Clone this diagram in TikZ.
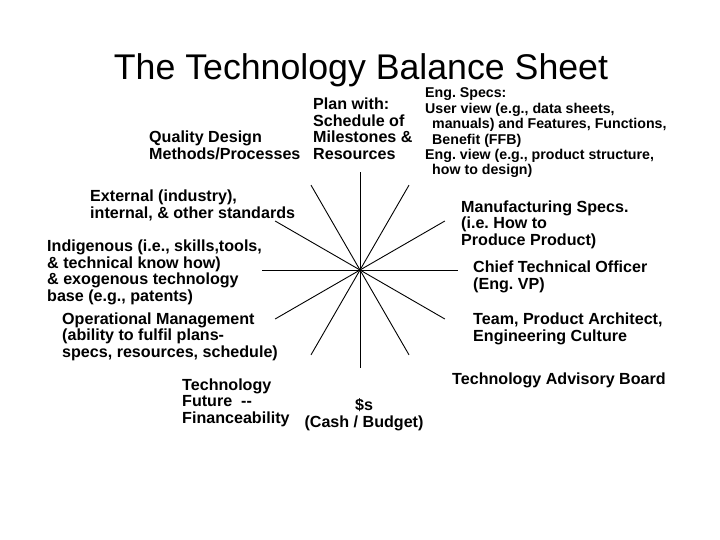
\documentclass[tikz,border=0pt]{standalone}
\usepackage{fontspec}
\setmainfont{Liberation Sans}
\frenchspacing
\begin{document}
\begin{tikzpicture}[
        x=1pt, y=-1pt,
        title/.style={font=\fontsize{35.7}{40}\selectfont, anchor=base, inner sep=0},% sheet title
        entry/.style={font=\bfseries\fontsize{16.1}{16.7}\selectfont, align=left, anchor=base west, inner sep=0},% item round the star, placed at last baseline
        small/.style={entry, font=\bfseries\fontsize{14.2}{15.4}\selectfont},% smaller item
        ray/.style={line width=0.9pt},% spoke of the star
    ]
        \useasboundingbox (0,0) rectangle (720,540);

        \node [title] (sheetTitle) at (361,80) {The Technology Balance Sheet};

        \coordinate (hub) at (360,270);
        \foreach \a in {0,30,...,330}
            \draw [ray] (hub) -- ++(\a:98) coordinate (spoke\a);

        \node [entry] (plan) at (313,159.5) {Plan with:\\Schedule of\\Milestones \&\\Resources};
        \node [entry] (quality) at (149,159.5) {Quality Design\\Methods/Processes};
        \node [small] (engSpecs) at (425,175) {Eng. Specs:\\User view (e.g., data sheets,\\\hspace*{7pt}manuals) and Features, Functions,\\\hspace*{7pt}Benefit (FFB)\\Eng. view (e.g., product structure,\\\hspace*{7pt}how to design)};
        \node [entry] (standards) at (90,218.5) {External (industry),\\internal, \& other standards};
        \node [entry] (techBase) at (47,301.5) {Indigenous (i.e., skills,tools,\\\& technical know how)\\\& exogenous technology\\base (e.g., patents)};
        \node [entry] (operations) at (62,357.5) {Operational Management\\(ability to fulfil plans-\\specs, resources, schedule)};
        \node [entry] (future) at (182,423.5) {Technology\\Future~ -{}-\\Financeability};
        \node [entry, align=center, anchor=base] (budget) at (364,427.5) {\$s\\(Cash / Budget)};
        \node [entry] (advisory) at (452,384.5) {Technology Advisory Board};
        \node [entry] (team) at (473,341.5) {Team, Product Architect,\\Engineering Culture};
        \node [entry] (cto) at (473,289.5) {Chief Technical Officer\\(Eng. VP)};
        \node [entry] (mfgSpecs) at (461,245.5) {Manufacturing Specs.\\(i.e. How to\\Produce Product)};
    \end{tikzpicture}
\end{document}
